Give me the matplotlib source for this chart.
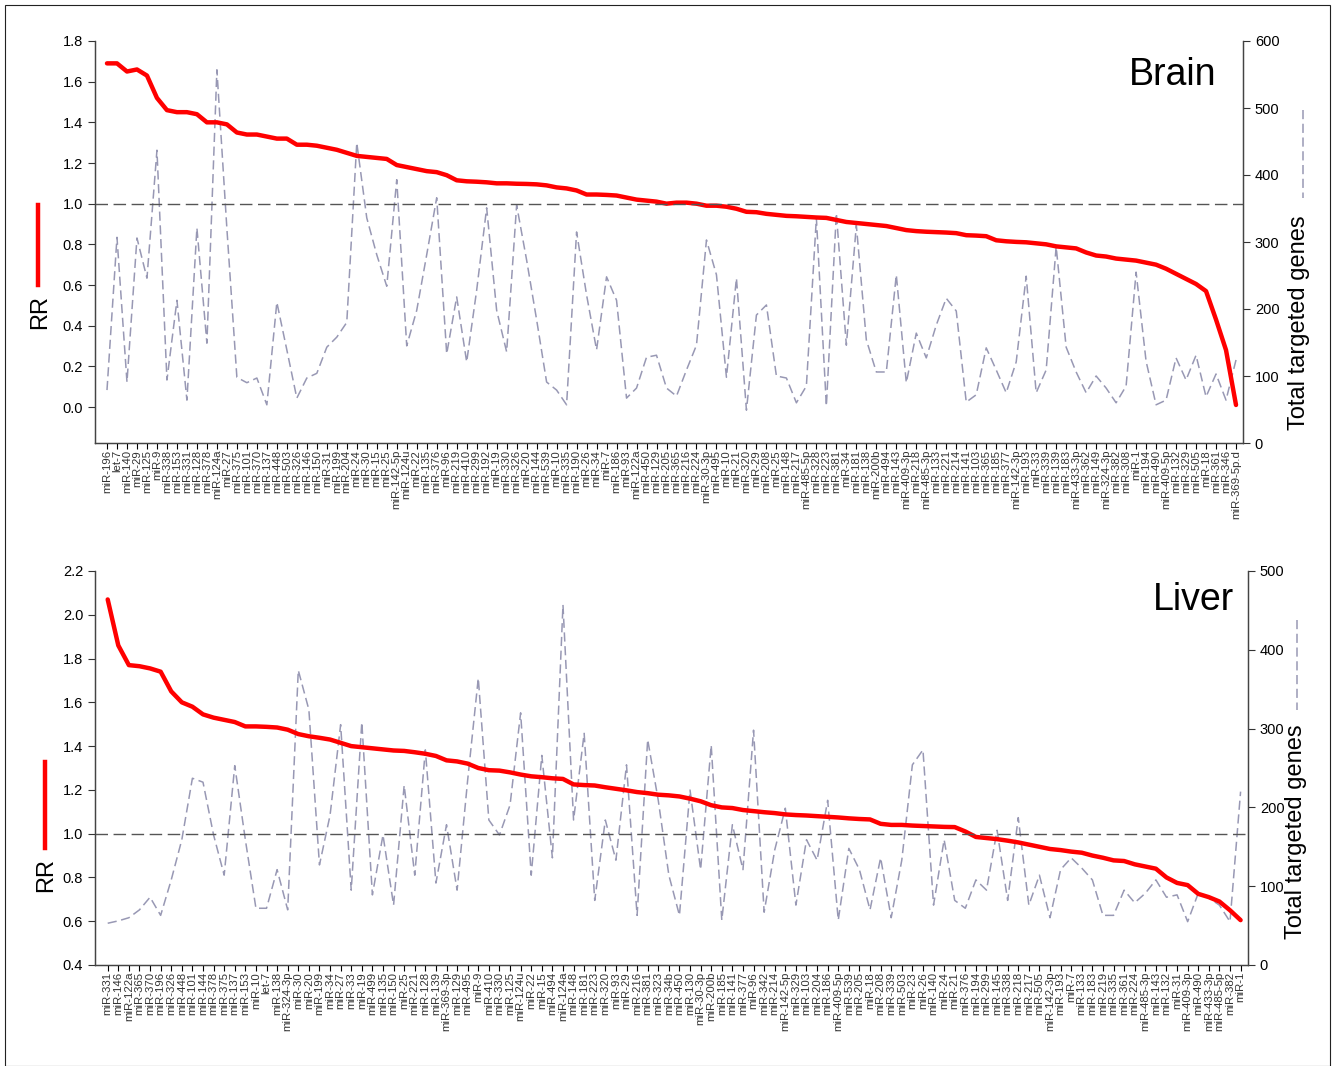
import matplotlib
matplotlib.use('Agg')

import matplotlib.pyplot as plt
from matplotlib.lines import Line2D
from matplotlib.patches import Rectangle

plt.rcParams['font.family'] = ['Liberation Sans', 'DejaVu Sans']

# ---- Brain ----
brain_labels = [
    "miR-196", "let-7", "miR-140", "miR-29", "miR-125", "miR-9", "miR-338", "miR-153", "miR-331", "miR-128",
    "miR-378", "miR-124a", "miR-27", "miR-375", "miR-101", "miR-370", "miR-137", "miR-448", "miR-503", "miR-326",
    "miR-146", "miR-150", "miR-31", "miR-199", "miR-204", "miR-24", "miR-30", "miR-15", "miR-25", "miR-142-5p",
    "miR-124u", "miR-22", "miR-135", "miR-376", "miR-96", "miR-219", "miR-410", "miR-299", "miR-192", "miR-19",
    "miR-330", "miR-326", "miR-20", "miR-144", "miR-539", "miR-10", "miR-335", "miR-190", "miR-26", "miR-34",
    "miR-7", "miR-186", "miR-93", "miR-122a", "miR-450", "miR-129", "miR-205", "miR-365", "miR-216", "miR-224",
    "miR-30-3p", "miR-495", "miR-10", "miR-21", "miR-320", "miR-29", "miR-208", "miR-25", "miR-148", "miR-217",
    "miR-485-5p", "miR-328", "miR-223", "miR-381", "miR-34", "miR-181", "miR-138", "miR-200b", "miR-494", "miR-143",
    "miR-409-3p", "miR-218", "miR-485-3p", "miR-133", "miR-221", "miR-214", "miR-141", "miR-103", "miR-365", "miR-185",
    "miR-377", "miR-142-3p", "miR-193", "miR-33", "miR-339", "miR-139", "miR-183", "miR-433-3p", "miR-362", "miR-149",
    "miR-324-3p", "miR-382", "miR-308", "miR-1", "miR-194", "miR-490", "miR-409-5p", "miR-132", "miR-329", "miR-505",
    "miR-18", "miR-361", "miR-346", "miR-369-5p.d",
]
brain_rr = [
    1.69, 1.69, 1.65, 1.66, 1.63, 1.52, 1.46, 1.45, 1.45, 1.44,
    1.40, 1.40, 1.39, 1.35, 1.34, 1.34, 1.33, 1.32, 1.32, 1.29,
    1.29, 1.285, 1.275, 1.265, 1.25, 1.235, 1.23, 1.225, 1.22, 1.19,
    1.18, 1.17, 1.16, 1.155, 1.14, 1.115, 1.11, 1.108, 1.105, 1.10,
    1.10, 1.098, 1.097, 1.095, 1.09, 1.08, 1.075, 1.065, 1.045, 1.045,
    1.043, 1.04, 1.03, 1.02, 1.015, 1.01, 1.00, 1.005, 1.005, 1.00,
    0.99, 0.99, 0.985, 0.975, 0.96, 0.958, 0.95, 0.945, 0.94, 0.938,
    0.935, 0.932, 0.93, 0.92, 0.91, 0.905, 0.90, 0.895, 0.89, 0.88,
    0.87, 0.865, 0.862, 0.86, 0.858, 0.855, 0.845, 0.843, 0.84, 0.82,
    0.815, 0.812, 0.81, 0.805, 0.80, 0.79, 0.785, 0.78, 0.76, 0.745,
    0.74, 0.73, 0.725, 0.72, 0.71, 0.70, 0.68, 0.655, 0.63, 0.605,
    0.57, 0.43, 0.28, 0.01,
]
brain_genes = [
    79, 307, 91, 306, 246, 437, 94, 213, 64, 321,
    149, 557, 320, 98, 90, 97, 57, 210, 139, 67,
    97, 104, 143, 158, 180, 448, 336, 281, 234, 393,
    145, 198, 281, 366, 133, 218, 121, 228, 351, 198,
    136, 355, 273, 184, 91, 79, 57, 315, 221, 139,
    248, 213, 67, 82, 128, 131, 82, 70, 109, 146,
    303, 251, 98, 246, 49, 191, 206, 100, 97, 60,
    85, 336, 55, 343, 146, 325, 154, 106, 106, 251,
    90, 164, 127, 176, 216, 197, 61, 72, 142, 109,
    75, 121, 249, 75, 109, 293, 143, 106, 75, 100,
    82, 60, 85, 255, 122, 57, 64, 127, 94, 131,
    69, 103, 64, 124,
]

# ---- Liver ----
liver_labels = [
    "miR-331", "miR-146", "miR-122a", "miR-365", "miR-370", "miR-196", "miR-326", "miR-448", "miR-101", "miR-144",
    "miR-378", "miR-375", "miR-137", "miR-153", "miR-10", "let-7", "miR-138", "miR-324-3p", "miR-30", "miR-20",
    "miR-199", "miR-34", "miR-27", "miR-33", "miR-19", "miR-499", "miR-135", "miR-150", "miR-25", "miR-221",
    "miR-128", "miR-139", "miR-369-3p", "miR-129", "miR-495", "miR-9", "miR-410", "miR-330", "miR-125", "miR-124u",
    "miR-22", "miR-15", "miR-494", "miR-124a", "miR-148", "miR-181", "miR-223", "miR-320", "miR-93", "miR-29",
    "miR-216", "miR-381", "miR-323", "miR-34b", "miR-450", "miR-130", "miR-30-3p", "miR-200b", "miR-185", "miR-141",
    "miR-377", "miR-96", "miR-342", "miR-214", "miR-142-5p", "miR-329", "miR-103", "miR-204", "miR-186", "miR-409-5p",
    "miR-539", "miR-205", "miR-18", "miR-208", "miR-339", "miR-503", "miR-23", "miR-26", "miR-140", "miR-24",
    "miR-21", "miR-376", "miR-194", "miR-299", "miR-145", "miR-338", "miR-218", "miR-217", "miR-505", "miR-142-3p",
    "miR-193", "miR-7", "miR-133", "miR-183", "miR-219", "miR-335", "miR-361", "miR-224", "miR-485-3p", "miR-143",
    "miR-132", "miR-31", "miR-409-3p", "miR-490", "miR-433-3p", "miR-485-5p", "miR-382", "miR-1",
]
liver_rr = [
    2.07, 1.86, 1.77, 1.765, 1.755, 1.74, 1.65, 1.60, 1.58, 1.545,
    1.53, 1.52, 1.51, 1.49, 1.49, 1.488, 1.485, 1.475, 1.455, 1.445,
    1.438, 1.43, 1.415, 1.40, 1.395, 1.39, 1.385, 1.38, 1.378, 1.372,
    1.365, 1.355, 1.335, 1.33, 1.32, 1.30, 1.29, 1.288, 1.28, 1.27,
    1.262, 1.258, 1.253, 1.25, 1.225, 1.222, 1.22, 1.212, 1.205, 1.198,
    1.19, 1.185, 1.178, 1.175, 1.17, 1.16, 1.148, 1.13, 1.12, 1.117,
    1.108, 1.103, 1.098, 1.094, 1.088, 1.085, 1.083, 1.08, 1.077, 1.074,
    1.07, 1.067, 1.065, 1.045, 1.04, 1.04, 1.037, 1.035, 1.033, 1.031,
    1.03, 1.01, 0.985, 0.98, 0.975, 0.968, 0.96, 0.95, 0.94, 0.93,
    0.925, 0.918, 0.913, 0.90, 0.89, 0.878, 0.875, 0.86, 0.85, 0.84,
    0.80, 0.775, 0.765, 0.725, 0.71, 0.69, 0.65, 0.605,
]
liver_genes = [
    53, 56, 60, 70, 86, 63, 108, 159, 237, 232,
    165, 114, 253, 159, 72, 72, 121, 70, 374, 324,
    127, 190, 305, 95, 308, 89, 165, 76, 228, 114,
    273, 104, 178, 95, 235, 364, 184, 165, 203, 320,
    114, 266, 136, 457, 184, 294, 82, 184, 133, 254,
    63, 286, 209, 114, 63, 222, 121, 279, 57, 178,
    121, 298, 67, 146, 199, 76, 159, 133, 209, 57,
    148, 121, 70, 136, 60, 133, 254, 273, 76, 159,
    82, 72, 108, 95, 171, 82, 187, 76, 114, 60,
    121, 136, 123, 108, 63, 63, 95, 79, 91, 108,
    86, 89, 55, 91, 85, 76, 55, 220,
]

RED = "#ff0000"
GREY = "#9898b4"


def draw_panel(fig, rect, labels, rr, genes, rr_lim, rr_ticks, g_lim, g_ticks, title, title_xy):
    ax = fig.add_axes(rect)
    ax2 = ax.twinx()
    x = list(range(len(labels)))

    ax2.plot(x, genes, color=GREY, linewidth=1.1, dashes=(6, 3))
    ax.plot(x, rr, color=RED, linewidth=3.2, solid_capstyle="round", solid_joinstyle="round")
    ax.axhline(1.0, color="#555555", linewidth=1.0, dashes=(9, 4))

    ax.set_zorder(ax2.get_zorder() + 1)
    ax.patch.set_visible(False)

    ax.set_xlim(-1.2, len(labels) - 0.3)
    ax.set_ylim(*rr_lim)
    ax.set_yticks(rr_ticks)
    ax.set_yticklabels([f"{t:.1f}" for t in rr_ticks])
    ax2.set_ylim(*g_lim)
    ax2.set_yticks(g_ticks)

    ax.set_xticks(x)
    ax.set_xticklabels(labels, rotation=90, fontsize=8.2, color="#333333")
    ax.tick_params(axis="x", length=4, width=0.8, pad=1)
    ax.tick_params(axis="y", labelsize=10.5, length=5, color="#333333")
    ax2.tick_params(axis="y", labelsize=10.5, length=5, color="#333333")

    for a in (ax, ax2):
        a.spines["top"].set_visible(False)
        for s in ("left", "right", "bottom"):
            a.spines[s].set_color("#444444")
            a.spines[s].set_linewidth(0.9)

    ax.text(title_xy[0], title_xy[1], title, transform=fig.transFigure,
            fontsize=27, ha="right", va="center")
    return ax, ax2


fig = plt.figure(figsize=(13.33, 10.66), dpi=100)
W, H = 1333.0, 1066.0

draw_panel(fig, [95 / W, 1 - 443 / H, (1243 - 95) / W, (443 - 41) / H],
           brain_labels, brain_rr, brain_genes,
           (-0.177, 1.8), [0.0, 0.2, 0.4, 0.6, 0.8, 1.0, 1.2, 1.4, 1.6, 1.8],
           (0, 600), [0, 100, 200, 300, 400, 500, 600],
           "Brain", (1216 / W, 1 - 75 / H))

draw_panel(fig, [95 / W, 1 - 965 / H, (1248 - 95) / W, (965 - 571) / H],
           liver_labels, liver_rr, liver_genes,
           (0.4, 2.2), [0.4, 0.6, 0.8, 1.0, 1.2, 1.4, 1.6, 1.8, 2.0, 2.2],
           (0, 500), [0, 100, 200, 300, 400, 500],
           "Liver", (1234 / W, 1 - 600 / H))

# axis titles with their line-style keys
fig.text(40 / W, 1 - 312 / H, "RR", rotation=90, fontsize=17, ha="center", va="center")
fig.text(1299 / W, 1 - 323 / H, "Total targeted genes", rotation=90, fontsize=17, ha="center", va="center")
fig.text(46 / W, 1 - 875 / H, "RR", rotation=90, fontsize=17, ha="center", va="center")
fig.text(1296 / W, 1 - 832 / H, "Total targeted genes", rotation=90, fontsize=17, ha="center", va="center")

fig.add_artist(Line2D([38 / W, 38 / W], [1 - 205 / H, 1 - 285 / H], color=RED, linewidth=3.2,
                      transform=fig.transFigure))
fig.add_artist(Line2D([45 / W, 45 / W], [1 - 762 / H, 1 - 848 / H], color=RED, linewidth=3.2,
                      transform=fig.transFigure))
fig.add_artist(Line2D([1303 / W, 1303 / W], [1 - 110 / H, 1 - 198 / H], color=GREY, linewidth=1.1,
                      dashes=(6, 3), transform=fig.transFigure))
fig.add_artist(Line2D([1297 / W, 1297 / W], [1 - 620 / H, 1 - 710 / H], color=GREY, linewidth=1.1,
                      dashes=(6, 3), transform=fig.transFigure))

fig.add_artist(Rectangle((5 / W, 0), 1 - 8 / W, 1 - 5 / H, fill=False, edgecolor="#222222",
                         linewidth=0.8, transform=fig.transFigure))

fig.savefig("out.png", dpi=100)
